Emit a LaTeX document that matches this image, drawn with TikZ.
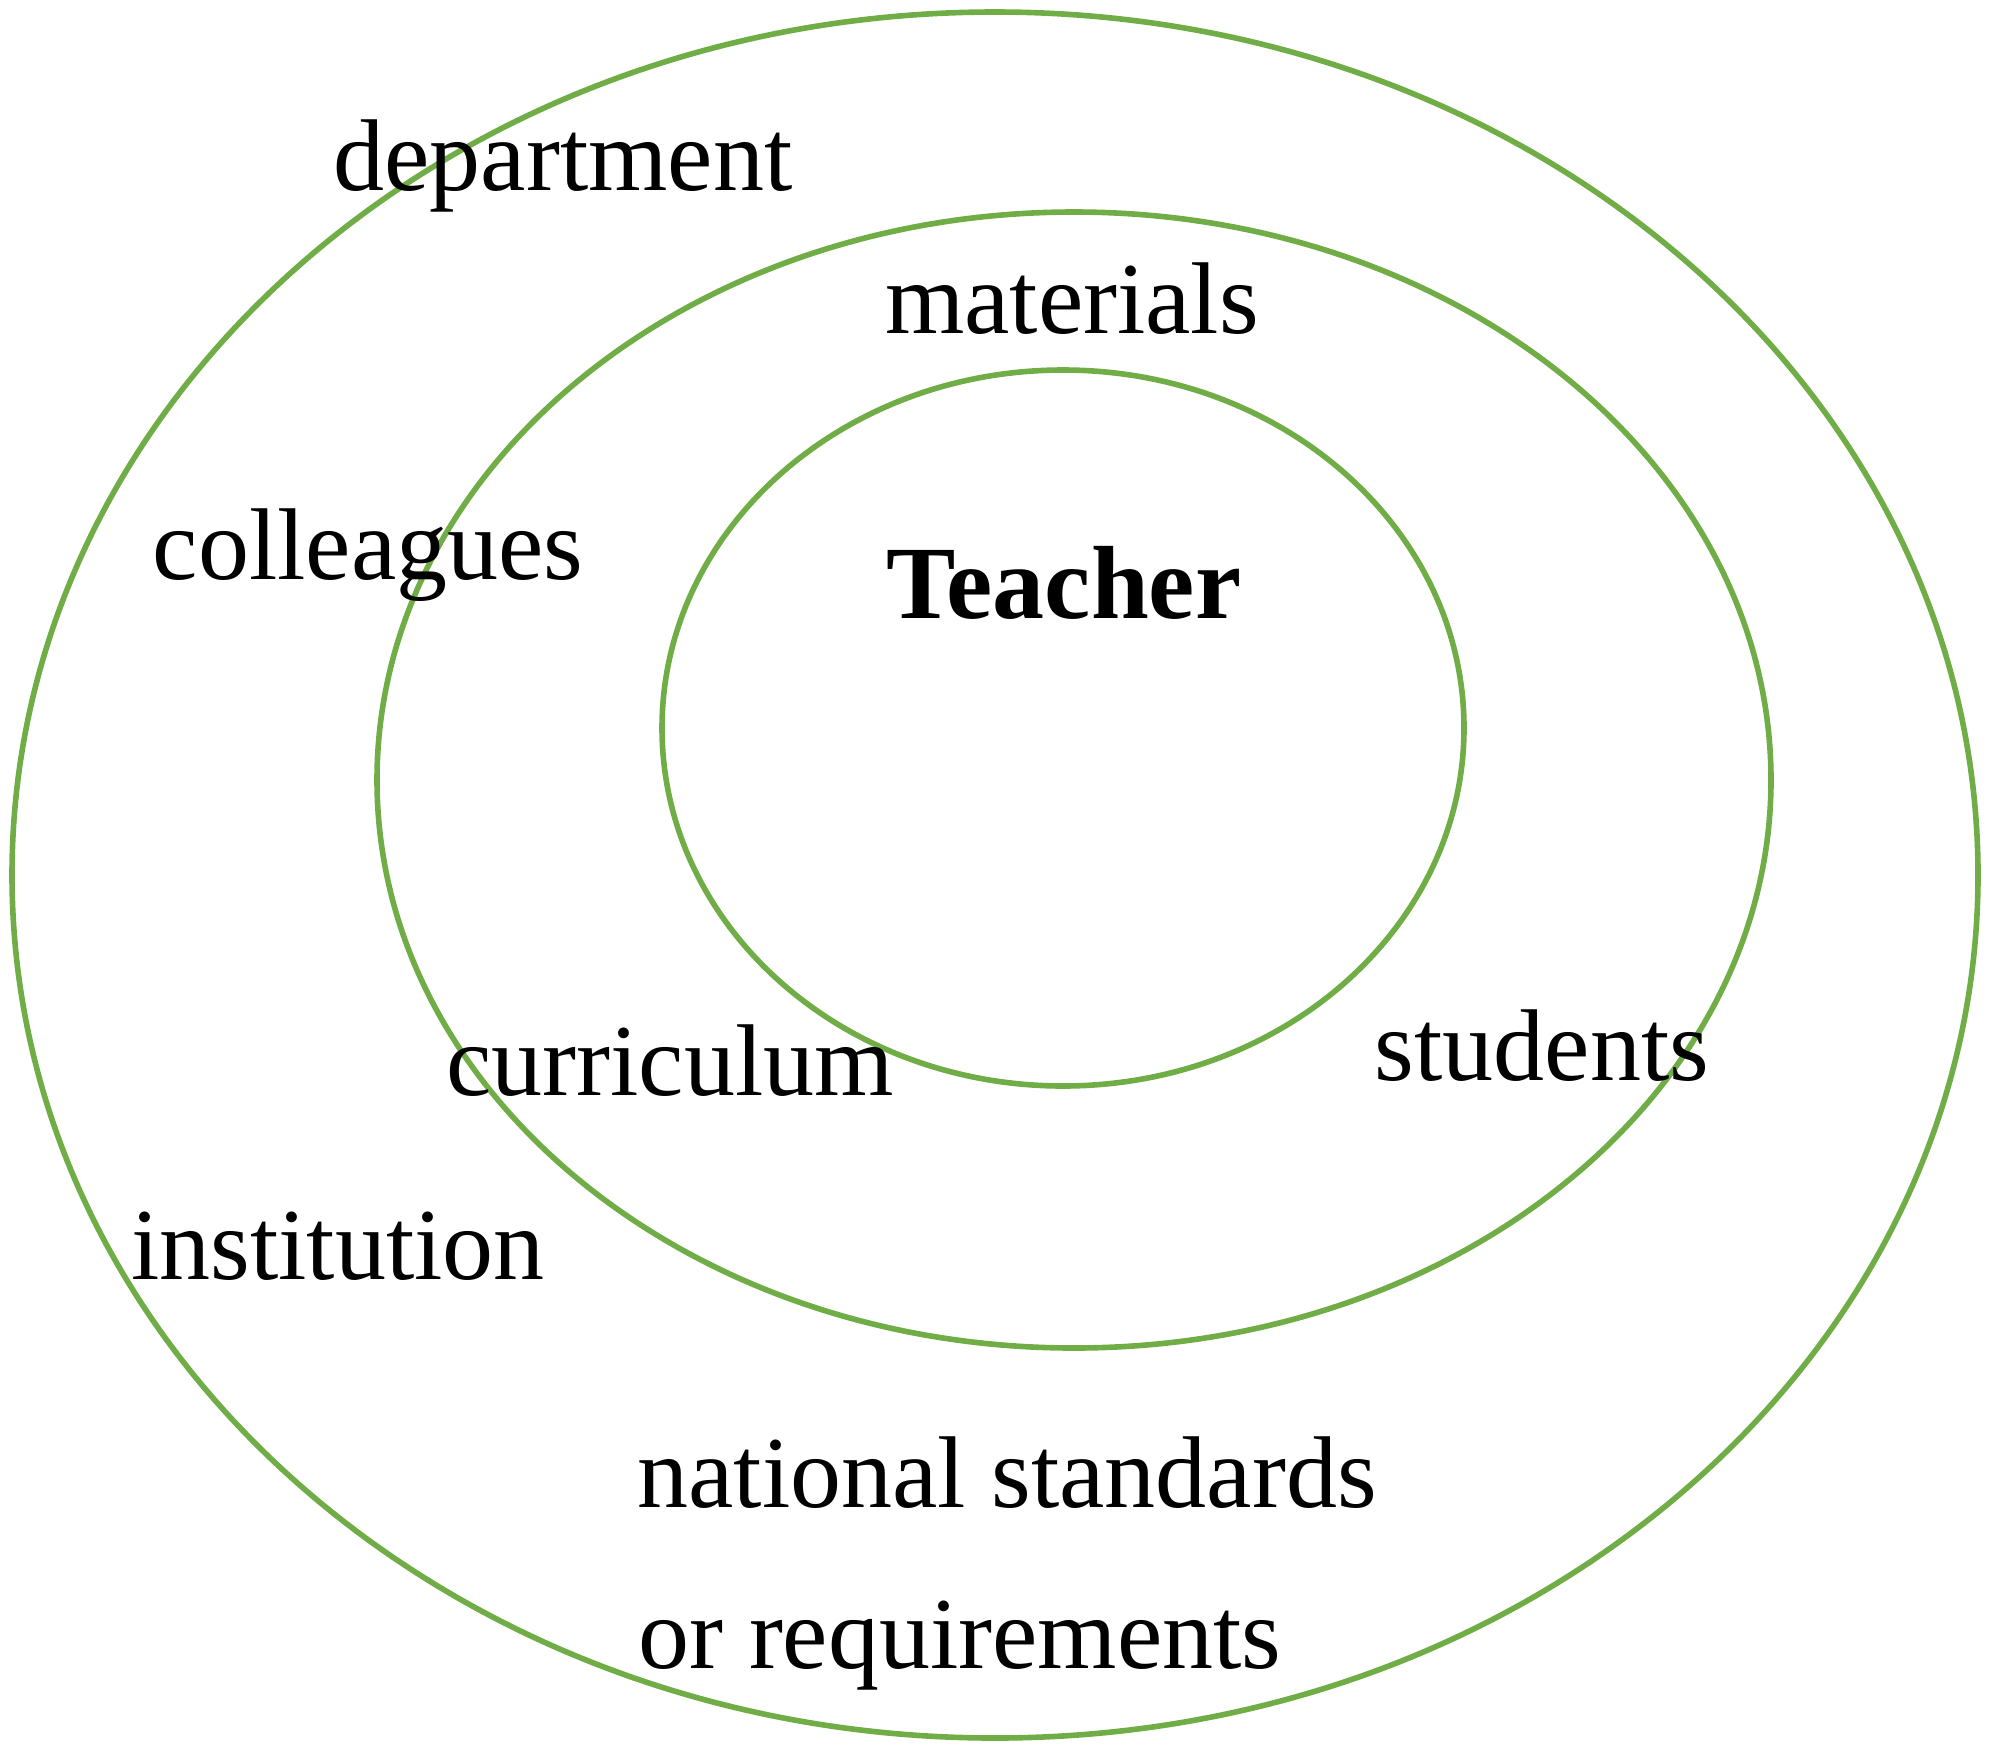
\documentclass[tikz,border=0pt]{standalone}
\usepackage{fontspec}
\setmainfont{Liberation Serif}
\definecolor{ringgreen}{HTML}{70AD47}
\begin{document}
\begin{tikzpicture}[x=0.5pt,y=-0.5pt,
  ring/.style={draw=ringgreen,line width=2.8pt},
  lbl/.style={anchor=base,inner sep=0pt,font=\fontsize{51}{60}\selectfont},
  blbl/.style={anchor=base,inner sep=0pt,font=\fontsize{52}{60}\selectfont\bfseries}]
\useasboundingbox (0,0) rectangle (1995,1757);
\draw[ring] (995,875) ellipse [x radius=983, y radius=863];
\draw[ring] (1074,780) ellipse [x radius=697, y radius=568];
\draw[ring] (1063,728) ellipse [x radius=401, y radius=358];
\node[lbl] (department) at (563,190) {department};
\node[lbl] (materials) at (1072,333) {materials};
\node[lbl] (colleagues) at (368,579) {colleagues};
\node[blbl] (teacher) at (1064,618) {Teacher};
\node[lbl] (curriculum) at (670,1095) {curriculum};
\node[lbl] (students) at (1542,1080) {students};
\node[lbl] (institution) at (338,1279) {institution};
\node[lbl] (national) at (1007,1507) {national standards};
\node[lbl] (requirements) at (960,1668) {or requirements};
\end{tikzpicture}
\end{document}
